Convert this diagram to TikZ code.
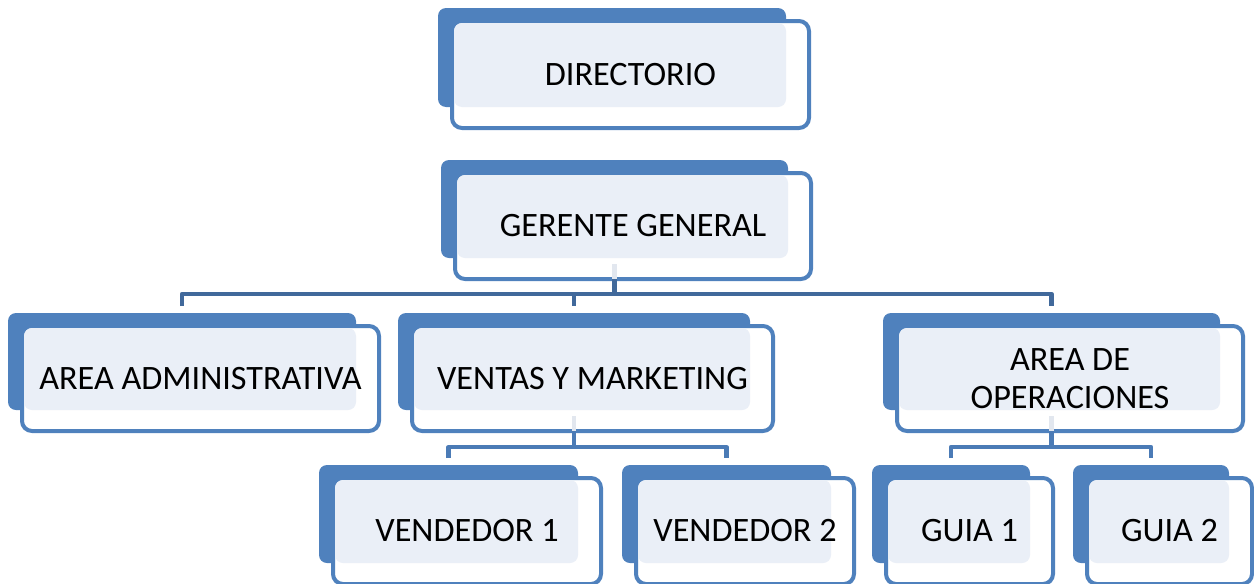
\documentclass[tikz,border=0pt]{standalone}
\usepackage{fontspec}
\setmainfont{Carlito}
\usetikzlibrary{fit}
\definecolor{backblue}{HTML}{4F81BD}
\definecolor{lightfill}{HTML}{EAEFF7}
\definecolor{barblue}{HTML}{41699B}
\definecolor{subblue}{HTML}{4B7BB6}
\definecolor{palestem}{HTML}{E2E7EF}
\tikzset{
 backbox/.style={rectangle, fill=backblue, rounded corners=4pt, inner sep=0pt, outer sep=0pt},
 frontbox/.style={rectangle, draw=backblue, line width=2pt, fill=white, rounded corners=5pt, inner sep=0pt, outer sep=0pt},
 lbl/.style={font=\fontsize{17.1}{19}\selectfont, align=center, inner sep=0pt, text=black},
 conn/.style={draw=barblue, line width=2.4pt, line join=round},
 subconn/.style={draw=subblue, line width=2.1pt, line join=round},
 pale/.style={draw=palestem, line width=2.2pt}
}
\newcommand\orgbox[6]{%
 \node[backbox, fit={(#2,#3) (#4,#5)}] (#1-b) {};
 \node[frontbox, fit={({#2+14},{#3+13}) ({#4+23},{#5+21})}] (#1-f) {};
 \fill[lightfill, rounded corners=4pt] ({#2+16},{#3+15}) rectangle (#4,#5);
 \node[lbl] (#1) at (#1-f.center) {#6};
}
\begin{document}
\begin{tikzpicture}[x=0.5pt, y=-0.5pt]
\useasboundingbox (0,0) rectangle (1254,584);
\orgbox{dir}{438}{8}{786}{107}{DIRECTORIO}
\orgbox{gg}{441}{160}{788}{258}{GERENTE GENERAL}
\orgbox{aa}{8}{313}{356}{410}{AREA ADMINISTRATIVA}
\orgbox{vm}{398}{313}{750}{410}{VENTAS Y MARKETING}
\orgbox{ao}{883}{313}{1220}{410}{AREA DE\\OPERACIONES}
\orgbox{v1}{319}{465}{578}{563}{VENDEDOR 1}
\orgbox{v2}{622}{465}{831}{563}{VENDEDOR 2}
\orgbox{g1}{872}{465}{1030}{563}{GUIA 1}
\orgbox{g2}{1073}{465}{1229}{563}{GUIA 2}
\coordinate (bar1) at (0,294);
\coordinate (bar2) at (0,447);
% top level
\draw[pale] ([yshift=-3pt]gg-b.south) -- (gg-b.south |- gg-f.south);
\draw[conn] (gg-b.south |- gg-f.south) -- (gg-b.south |- bar1);
\draw[conn] ([yshift=3.5pt]aa-b.north) |- (ao-b.north |- bar1) -- ([yshift=3.5pt]ao-b.north);
\draw[conn] (vm-b.north |- bar1) -- ([yshift=3.5pt]vm-b.north);
% ventas
\draw[pale] ([yshift=-3pt]vm-b.south) -- (vm-b.south |- vm-f.south);
\draw[subconn] (vm-b.south |- vm-f.south) -- (vm-b.south |- bar2);
\draw[subconn] ([yshift=3.5pt]v1-b.north) |- (v2-b.north |- bar2) -- ([yshift=3.5pt]v2-b.north);
% operaciones
\draw[pale] ([yshift=-3pt]ao-b.south) -- (ao-b.south |- ao-f.south);
\draw[subconn] (ao-b.south |- ao-f.south) -- (ao-b.south |- bar2);
\draw[subconn] ([yshift=3.5pt]g1-b.north) |- (g2-b.north |- bar2) -- ([yshift=3.5pt]g2-b.north);
\end{tikzpicture}
\end{document}
